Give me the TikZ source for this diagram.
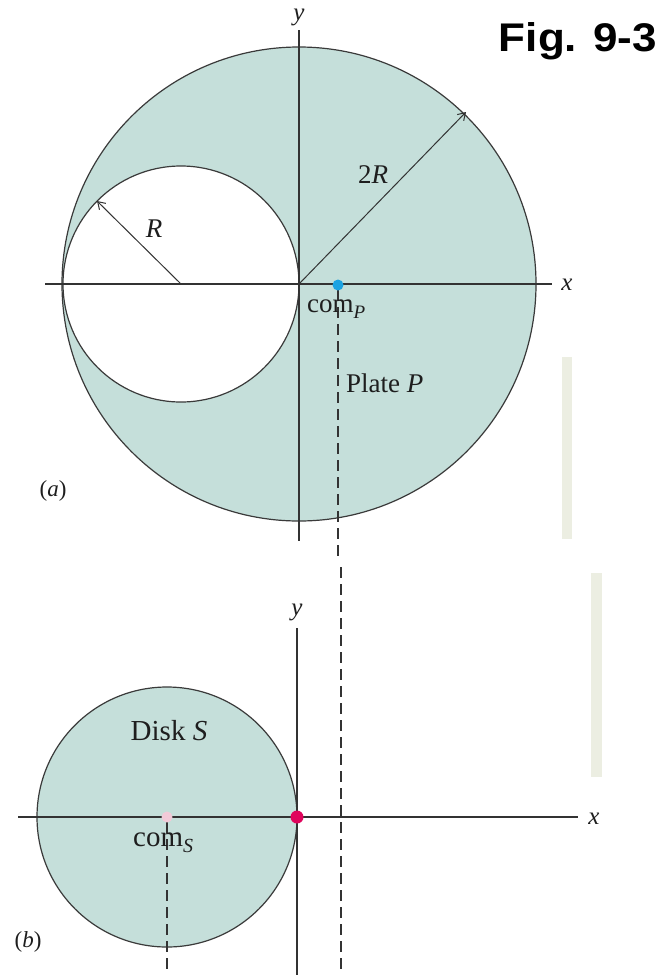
\documentclass[tikz,border=0pt]{standalone}
\usepackage{fontspec}
\setmainfont{Liberation Serif}
\newfontfamily\figfont{Liberation Sans}
\usetikzlibrary{arrows.meta}
\definecolor{platefill}{HTML}{C5DFDA}
\definecolor{outline}{HTML}{3A3A3A}
\definecolor{axiscol}{HTML}{333333}
\definecolor{txt}{HTML}{1E1E1E}
\definecolor{bluedot}{HTML}{1CA3E2}
\definecolor{reddot}{HTML}{E0045C}
\definecolor{pinkdot}{HTML}{F2CAD8}
\definecolor{barcol}{HTML}{ECEEE2}
\tikzset{
  shapeline/.style={draw=outline, line width=1.2pt},
  axis/.style={draw=axiscol, line width=1.4pt},
  dashline/.style={draw=axiscol, line width=1.4pt, dash pattern=on 11pt off 6pt},
  radarrow/.style={draw=axiscol, line width=1pt, -{Straight Barb[length=7pt,width=9pt,line width=1pt]}},
  lbl/.style={text=txt, inner sep=0pt, font=\fontsize{27}{32}\selectfont},
  lblb/.style={text=txt, inner sep=0pt, font=\fontsize{29}{34}\selectfont},
  axlbl/.style={text=txt, inner sep=0pt, font=\fontsize{25}{30}\selectfont\itshape},
  partlbl/.style={text=txt, inner sep=0pt, font=\fontsize{23}{27}\selectfont},
  bar/.style={fill=barcol, draw=none}
}
\begin{document}
\begin{tikzpicture}[x=1pt,y=-1pt]
\useasboundingbox (0,0) rectangle (663,975);
\fill[white] (0,0) rectangle (663,975);

% ---------- part (a) ----------
\coordinate (Pc) at (299,284);
\coordinate (Hc) at (181,284);
\filldraw[shapeline, fill=platefill] (Pc) circle[radius=237];
\filldraw[shapeline, fill=white] (Hc) circle[radius=118];

\coordinate (xaL) at (45,284);
\coordinate (xaR) at (552,284);
\coordinate (yaT) at (299,30);
\coordinate (yaB) at (299,541);
\draw[axis] (xaL) -- (xaR);
\draw[axis] (yaT) -- (yaB);
\node[axlbl] (xa) at (567,285) {x};
\node[axlbl] (ya) at (299,17) {y};

\coordinate (tip2R) at (466,112);
\coordinate (tipR) at (97,201);
\draw[radarrow] (Pc) -- (tip2R);
\draw[radarrow] (Hc) -- (tipR);
\node[lbl] (l2R) at (373,175) {2\textit{R}};
\node[lbl] (lR) at (154,229) {\textit{R}};

\coordinate (dA1) at (338,290);
\coordinate (dA2) at (338,558);
\draw[dashline] (dA1) -- (dA2);
\coordinate (comP) at (338,285);
\fill[bluedot] (comP) circle[radius=5.5];

\node[lbl, anchor=west] (comPl) at (307,309) {com\raisebox{-0.45ex}{\fontsize{19}{21}\selectfont\itshape P}};
\node[lbl, anchor=west] (plate) at (346,383) {Plate \textit{P}};
\node[partlbl] (pa) at (53,491) {(\textit{a})};

% ---------- bars ----------
\fill[bar] (562,357) rectangle (572,539);
\fill[bar] (591,573) rectangle (602,777);

% ---------- part (b) ----------
\coordinate (Sc) at (167,817);
\filldraw[shapeline, fill=platefill] (Sc) circle[radius=130];

\coordinate (xbL) at (18,817);
\coordinate (xbR) at (578,817);
\coordinate (ybT) at (297,628);
\coordinate (ybB) at (297,975);
\draw[axis] (xbL) -- (xbR);
\draw[axis] (ybT) -- (ybB);
\node[axlbl] (xb) at (594,819) {x};
\node[axlbl] (yb) at (297,612) {y};

\coordinate (dB1) at (341,567);
\coordinate (dB2) at (341,975);
\draw[dashline] (dB1) -- (dB2);
\coordinate (dS1) at (167,822);
\coordinate (dS2) at (167,975);
\draw[dashline] (dS1) -- (dS2);

\fill[pinkdot] (Sc) circle[radius=5.5];
\coordinate (Sedge) at (297,817);
\fill[reddot] (Sedge) circle[radius=6.5];

\node[lblb] (disk) at (169,731) {Disk \textit{S}};
\node[lblb, anchor=west] (comSl) at (133,843) {com\raisebox{-0.45ex}{\fontsize{20}{22}\selectfont\itshape S}};
\node[partlbl] (pb) at (28,942) {(\textit{b})};

% ---------- title ----------
\node[inner sep=0pt, text=black, font=\figfont\bfseries\fontsize{40}{44}\selectfont, xscale=1.1] (fig) at (578,41) {Fig. 9-3};
\end{tikzpicture}
\end{document}
